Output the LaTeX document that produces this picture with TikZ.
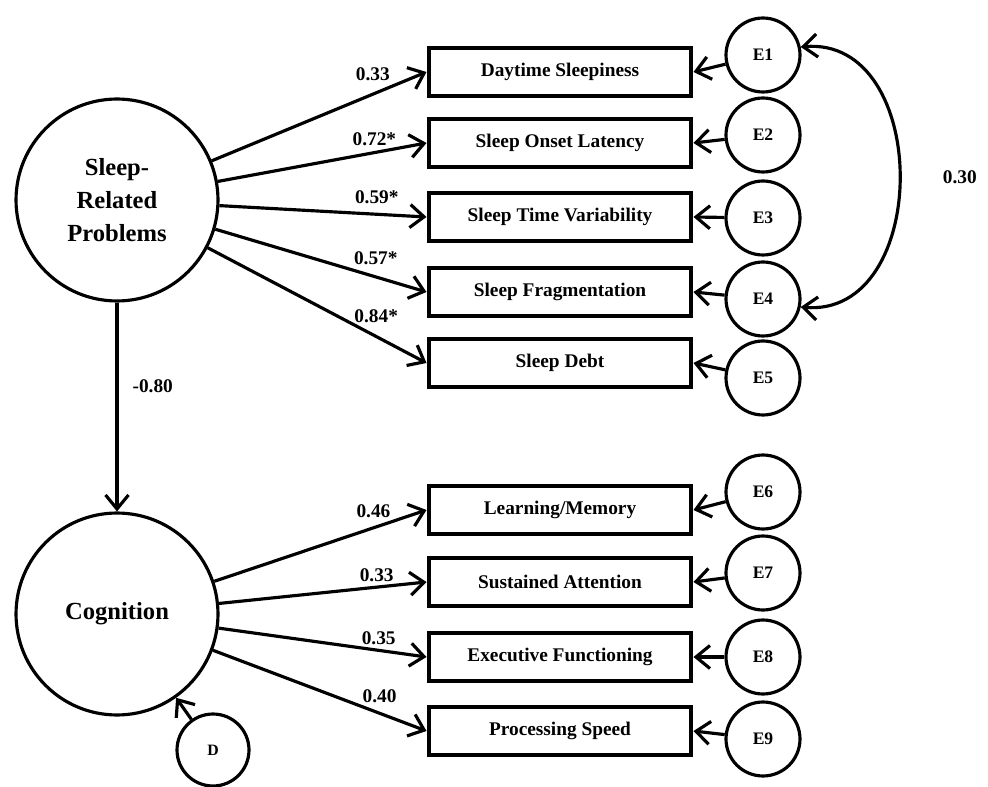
\documentclass[tikz,border=0pt]{standalone}
\usepackage{fontspec}
\setmainfont{Liberation Serif}
\usepackage{tikz}
\usetikzlibrary{arrows.meta}

\begin{document}
\begin{tikzpicture}[
  x=0.02cm, y=-0.02cm,
  latent/.style={circle, draw, line width=1.8pt, minimum size=4.04cm, align=center, font=\fontsize{14}{19}\selectfont\bfseries},
  indicator/.style={draw, line width=2.3pt, minimum width=5.26cm, minimum height=0.96cm, font=\fontsize{11}{13}\selectfont\bfseries},
  resid/.style={circle, draw, line width=1.8pt, minimum size=1.48cm, font=\fontsize{10}{12}\selectfont\bfseries},
  coef/.style={font=\fontsize{11}{13}\selectfont\bfseries, inner sep=2pt},
  arrow/.style={-{Straight Barb[length=2.8mm,width=4.6mm]}, line width=1.8pt},
  cov/.style={{Straight Barb[length=2.8mm,width=4.6mm]}-{Straight Barb[length=2.8mm,width=4.6mm]}, line width=1.8pt}
]
  \useasboundingbox (0,0) rectangle (988,787);

  % latent factors
  \node[latent] (srp) at (117,200) {Sleep-\\Related\\Problems};
  \node[latent] (cog) at (117,614) {Cognition};

  % observed indicators
  \node[indicator] (day) at (560,72) {Daytime Sleepiness};
  \node[indicator] (onset) at (560,143) {Sleep Onset Latency};
  \node[indicator] (var) at (560,217) {Sleep Time Variability};
  \node[indicator] (frag) at (560,292) {Sleep Fragmentation};
  \node[indicator] (debt) at (560,363) {Sleep Debt};
  \node[indicator] (learn) at (560,510) {Learning/Memory};
  \node[indicator] (attn) at (560,582) {Sustained Attention};
  \node[indicator] (exec) at (560,657) {Executive Functioning};
  \node[indicator] (speed) at (560,731) {Processing Speed};

  % error terms
  \node[resid] (e1) at (763,55) {E1};
  \node[resid] (e2) at (763,135) {E2};
  \node[resid] (e3) at (763,218) {E3};
  \node[resid] (e4) at (763,299) {E4};
  \node[resid] (e5) at (763,378) {E5};
  \node[resid] (e6) at (763,492) {E6};
  \node[resid] (e7) at (763,573) {E7};
  \node[resid] (e8) at (763,657) {E8};
  \node[resid] (e9) at (763,739) {E9};
  \node[resid, minimum size=1.44cm, font=\fontsize{9}{11}\selectfont\bfseries] (dist) at (213,750) {D};

  % loadings
  \draw[arrow] (srp) -- node[coef, above=5pt, pos=0.75] {0.33} (day.west);
  \draw[arrow] (srp) -- node[coef, above=1pt, pos=0.75] {0.72*} (onset.west);
  \draw[arrow] (srp) -- node[coef, above=3pt, pos=0.76] {0.59*} (var.west);
  \draw[arrow] (srp) -- node[coef, above=4pt, pos=0.76] {0.57*} (frag.west);
  \draw[arrow] (srp) -- node[coef, above=5pt, pos=0.77] {0.84*} (debt.west);
  \draw[arrow] (cog) -- node[coef, above=3pt, pos=0.75] {0.46} (learn.west);
  \draw[arrow] (cog) -- node[coef, above=0pt, pos=0.76] {0.33} (attn.west);
  \draw[arrow] (cog) -- node[coef, above=0pt, pos=0.77] {0.35} (exec.west);
  \draw[arrow] (cog) -- node[coef, above=3pt, pos=0.78] {0.40} (speed.west);

  % structural path
  \draw[arrow] (srp) -- node[coef, right=6pt, pos=0.4] {-0.80} (cog);
  \draw[arrow] (dist) -- (cog);

  % residuals
  \draw[arrow] (e1) -- (day.east);
  \draw[arrow] (e2) -- (onset.east);
  \draw[arrow] (e3) -- (var.east);
  \draw[arrow] (e4) -- (frag.east);
  \draw[arrow] (e5) -- (debt.east);
  \draw[arrow] (e6) -- (learn.east);
  \draw[arrow] (e7) -- (attn.east);
  \draw[arrow] (e8) -- (exec.east);
  \draw[arrow] (e9) -- (speed.east);

  % covariance
  \draw[cov] (e1.12) to[out=5, in=-5, looseness=1.3] node[coef, right=22pt] {0.30} (e4.-12);
\end{tikzpicture}
\end{document}
